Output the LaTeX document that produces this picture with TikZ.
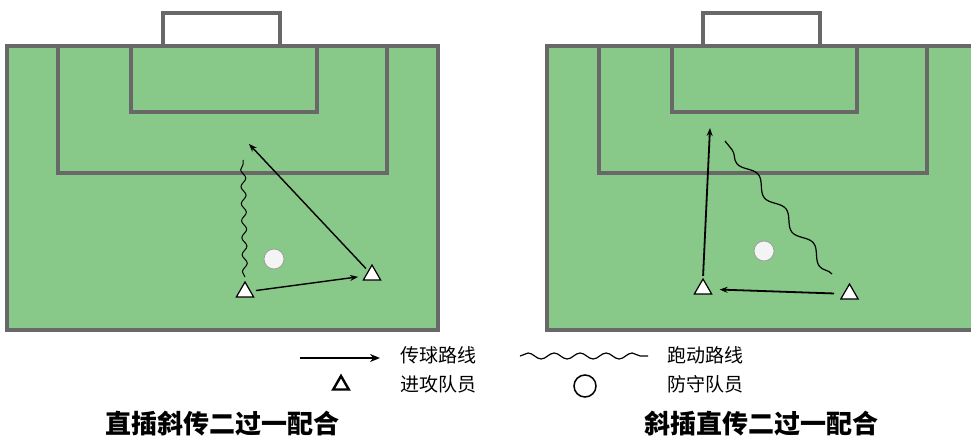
\documentclass[tikz,border=0pt]{standalone}
\usepackage{fontspec}
\newfontfamily\cjk{Noto Sans CJK SC}
\usetikzlibrary{shapes.geometric,arrows.meta,decorations.pathmorphing,calc}
\definecolor{pitch}{RGB}{136,200,136}
\definecolor{fieldline}{RGB}{104,104,104}
\definecolor{defcol}{RGB}{244,244,244}
\tikzset{
 fieldln/.style={draw=fieldline,line width=3.5pt,line join=miter},
 attacker/.style={regular polygon,regular polygon sides=3,draw=black,fill=white,line width=1.2pt,minimum size=20pt,inner sep=0pt},
 defender/.style={circle,draw=gray!80,fill=defcol,line width=0.7pt,minimum size=20pt,inner sep=0pt},
 pass/.style={draw=black,line width=1.4pt,-{Stealth[length=8pt,width=6pt]}},
 run/.style={draw=black,line width=1pt,decorate,decoration={snake,amplitude=2.5pt,segment length=17pt}},
 bigrun/.style={draw=black,line width=1.2pt,decorate,decoration={snake,amplitude=5pt,segment length=44pt}},
 legarrow/.style={draw=black,line width=2pt,-{Stealth[length=10pt,width=8pt]}},
 legrun/.style={draw=black,line width=1.2pt,decorate,decoration={snake,amplitude=3pt,segment length=26pt}},
 legatt/.style={regular polygon,regular polygon sides=3,draw=black,fill=white,line width=2.4pt,minimum size=18pt,inner sep=0pt},
 legdef/.style={circle,draw=black,fill=white,line width=1.5pt,minimum size=22pt,inner sep=0pt},
 legtext/.style={font=\cjk\fontsize{19}{19}\selectfont,anchor=west,inner sep=0pt},
 titletext/.style={font=\cjk\bfseries\fontsize{26}{26}\selectfont,inner sep=0pt}
}
\begin{document}
\begin{tikzpicture}[x=1pt,y=-1pt]
\clip (0,0) rectangle (971,438);
\fill[white] (0,0) rectangle (971,438);
% left field
\path[fieldln,fill=pitch] (7,46) rectangle (438,330);
\path[fieldln,fill=white] (163,13) rectangle (280,46);
\path[fieldln] (58,46) -- (58,173) -- (387,173) -- (387,46);
\path[fieldln] (131,46) -- (131,112) -- (317,112) -- (317,46);
% right field
\path[fieldln,fill=pitch] (547,46) rectangle (995,330);
\path[fieldln,fill=white] (703,13) rectangle (820,46);
\path[fieldln] (599,46) -- (599,173) -- (927,173) -- (927,46);
\path[fieldln] (672,46) -- (672,112) -- (857,112) -- (857,46);
% left play
\node[attacker] (La) at (245,292) {};
\node[attacker] (Lb) at (372,275) {};
\node[defender] (Ld) at (274,259) {};
\coordinate (Lrs) at (245,277);
\coordinate (Lre) at (243,160);
\coordinate (Lpe) at (249,144);
\draw[run] (Lrs) -- (Lre);
\draw[pass,shorten <=5pt,shorten >=7pt] (La) -- (Lb);
\draw[pass,shorten <=3pt] (Lb) -- (Lpe);
% right play
\node[attacker] (Ra) at (703,289) {};
\node[attacker] (Rb) at (849.5,294) {};
\node[defender] (Rd) at (764,251) {};
\coordinate (Rpe) at (710,128);
\coordinate (Rrs) at (832,274);
\coordinate (Rre) at (725,141);
\draw[pass,line width=1.8pt,shorten <=2pt] (Ra.north) -- (Rpe);
\draw[pass,line width=1.8pt,shorten <=9pt,shorten >=10pt] (Rb) -- (Ra);
\draw[bigrun] (Rrs) -- (Rre);
% legend
\coordinate (la1) at (300,358);
\coordinate (la2) at (380,358);
\draw[legarrow] (la1) -- (la2);
\node[legtext] (t1) at (400,355) {传球路线};
\coordinate (lw1) at (520,356);
\coordinate (lw2) at (648,356);
\draw[legrun] (lw1) -- (lw2);
\node[legtext] (t2) at (667,355) {跑动路线};
\node[legatt] (lt) at (341,385) {};
\node[legtext] (t3) at (400,384) {进攻队员};
\node[legdef] (lc) at (585,386) {};
\node[legtext] (t4) at (667,384) {防守队员};
% titles
\node[titletext] (T1) at (222,424) {直插斜传二过一配合};
\node[titletext] (T2) at (761,424) {斜插直传二过一配合};
\end{tikzpicture}
\end{document}
